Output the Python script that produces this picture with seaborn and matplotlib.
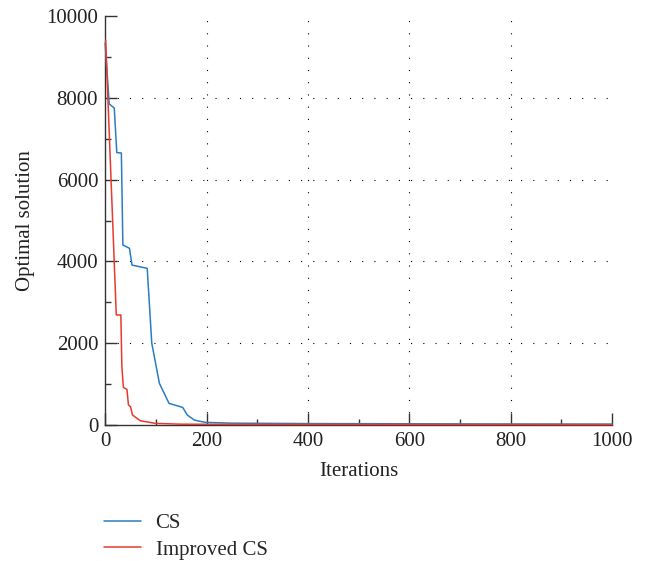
import matplotlib
matplotlib.use("Agg")
import matplotlib.pyplot as plt
import seaborn as sns
import pandas as pd
from matplotlib.ticker import MultipleLocator

# ---- data ----
cs_iter = [0, 8, 18, 23, 32, 35, 48, 53, 83, 92, 107, 126, 153, 162, 176, 197, 250, 400, 600, 800, 1000]
cs_value = [9340, 7850, 7750, 6660, 6650, 4400, 4320, 3910, 3830, 2000, 1020, 530, 430, 245, 120, 65, 45, 35, 30, 25, 22]

ics_iter = [1, 22, 31, 33, 36, 43, 46, 50, 54, 69, 99, 150, 300, 600, 1000]
ics_value = [9410, 2690, 2690, 1430, 920, 870, 490, 450, 245, 105, 40, 20, 15, 12, 10]

series_names = ["CS", "Improved CS"]
x_ticks = [0, 200, 400, 600, 800, 1000]
y_ticks = [0, 2000, 4000, 6000, 8000, 10000]

df = pd.concat([
    pd.DataFrame({"Iterations": cs_iter, "value": cs_value, "series": series_names[0]}),
    pd.DataFrame({"Iterations": ics_iter, "value": ics_value, "series": series_names[1]}),
])

sns.set_theme(style="ticks")
plt.rcParams["font.family"] = ["Liberation Serif", "DejaVu Serif"]

fig = plt.figure(figsize=(6.45, 5.61), dpi=100)
ax = fig.add_axes([0.163, 0.2424, 0.786, 0.7291])

sns.lineplot(data=df, x="Iterations", y="value", hue="series",
             palette={"CS": "#2a7dc0", "Improved CS": "#e8392e"},
             linewidth=1.1, ax=ax, zorder=5, estimator=None, sort=False)

for ln in ax.lines:
    ln.set_clip_on(False)

ax.set_xlim(0, 1000)
ax.set_ylim(0, 10000)
ax.set_xticks(x_ticks)
ax.set_yticks(y_ticks)
ax.xaxis.set_minor_locator(MultipleLocator(100))
ax.yaxis.set_minor_locator(MultipleLocator(1000))
ax.tick_params(which="major", direction="in", length=8.5, width=1.0, color="#333333",
               labelsize=15, labelcolor="#222222", pad=5)
ax.tick_params(which="minor", direction="in", length=4.5, width=1.0, color="#333333")

for s in ["top", "right"]:
    ax.spines[s].set_visible(False)
for s in ["left", "bottom"]:
    ax.spines[s].set_color("#333333")
    ax.spines[s].set_linewidth(1.0)

ax.grid(True, which="major", color="black", linestyle=(0, (1, 10)), linewidth=0.8)
fig.canvas.draw()
for gl in (ax.xaxis.get_gridlines()[0], ax.xaxis.get_gridlines()[-1],
           ax.yaxis.get_gridlines()[0], ax.yaxis.get_gridlines()[-1]):
    gl.set_visible(False)

ax.set_xlabel("Iterations", fontsize=15, color="#222222", labelpad=8)
ax.set_ylabel("Optimal solution", fontsize=15, color="#222222", labelpad=8)

sns.move_legend(ax, loc="upper left", bbox_to_anchor=(0.162, 0.085),
                bbox_transform=fig.transFigure, frameon=False, title=None,
                fontsize=15, handlelength=1.75, handletextpad=0.7, labelspacing=0.35,
                borderpad=0, borderaxespad=0)

fig.savefig("out.png", dpi=100)
